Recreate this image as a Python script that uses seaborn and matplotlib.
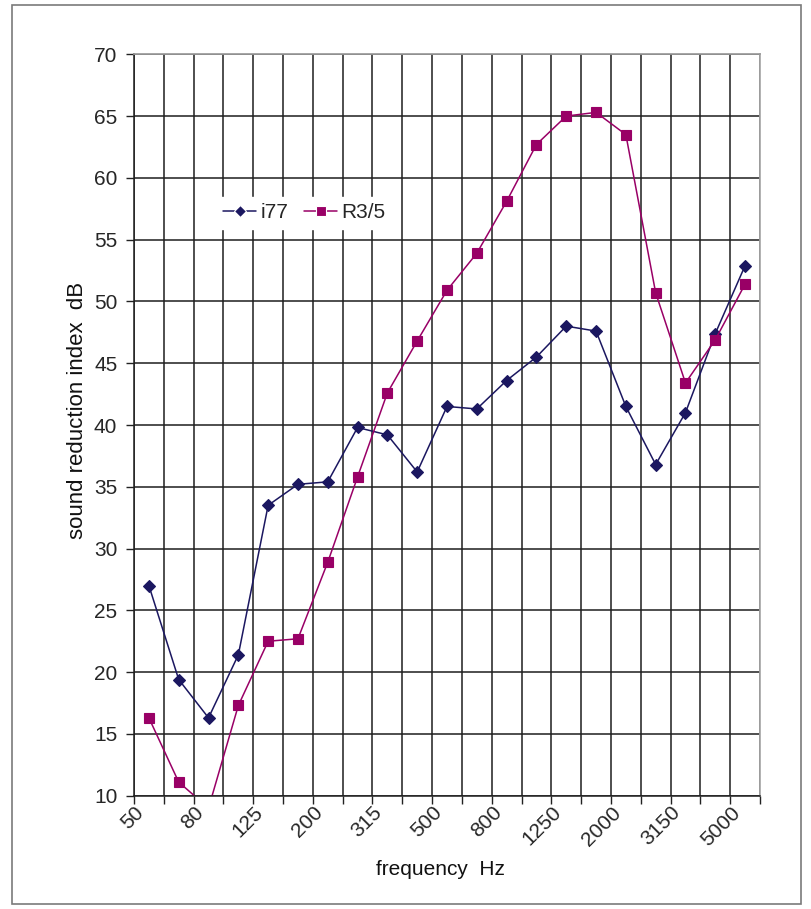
import numpy as np
import pandas as pd
import matplotlib
matplotlib.use("Agg")
import matplotlib.pyplot as plt
import matplotlib.transforms as mtransforms
from matplotlib.patches import Rectangle
import seaborn as sns

# Third-octave band centre frequencies (Hz)
bands = ["50", "63", "80", "100", "125", "160", "200", "250", "315", "400",
         "500", "630", "800", "1000", "1250", "1600", "2000", "2500", "3150",
         "4000", "5000"]

# Sound reduction index per band (dB)
i77 = [27.0, 19.4, 16.3, 21.4, 33.5, 35.2, 35.4, 39.8, 39.2, 36.2,
       41.5, 41.3, 43.6, 45.5, 48.0, 47.6, 41.5, 36.8, 41.0, 47.4, 52.9]
r35 = [16.3, 11.1, 9.0, 17.3, 22.5, 22.7, 28.9, 35.8, 42.6, 46.8,
       50.9, 53.9, 58.1, 62.7, 65.0, 65.3, 63.5, 50.7, 43.4, 46.9, 51.4]

series_names = ["i77", "R3/5"]
series_colors = ["#1b1760", "#990066"]
series_markers = ["D", "s"]

y_ticks = list(range(10, 75, 5))

pos = np.arange(len(bands))
df = pd.concat([
    pd.DataFrame({"pos": pos, "band": bands, "value": i77, "series": series_names[0]}),
    pd.DataFrame({"pos": pos, "band": bands, "value": r35, "series": series_names[1]}),
], ignore_index=True)

sns.set_theme(style="white")
plt.rcParams["font.family"] = ["Liberation Sans", "DejaVu Sans"]

fig = plt.figure(figsize=(8.11, 9.09), dpi=100)
ax = fig.add_axes([134 / 811, 1 - 795.7 / 909, 626 / 811, 741.4 / 909])

sns.lineplot(data=df, x="pos", y="value", hue="series", style="series",
             hue_order=series_names, style_order=series_names,
             palette=dict(zip(series_names, series_colors)),
             markers=dict(zip(series_names, series_markers)),
             dashes=False, sort=False, linewidth=1.1, markersize=6.5,
             markeredgewidth=0.8, ax=ax, legend=True)

# marker edges share the line colour
for line, col in zip(ax.lines[:2], series_colors):
    line.set_markeredgecolor(col)
    line.set_markerfacecolor(col)
ax.lines[1].set_markersize(7.5)

ax.set_xlim(-0.5, len(bands) - 0.5)
ax.set_ylim(10, 70)

# category boundaries carry the grid and tick marks
ax.set_xticks(np.arange(-0.5, len(bands), 1.0))
ax.set_xticklabels([])
ax.set_xticks(pos[::2], minor=True)
ax.set_xticklabels(bands[::2], minor=True, rotation=45, ha="right",
                   va="center", rotation_mode="anchor", fontsize=15)
ax.tick_params(axis="x", which="major", direction="out", length=6,
               width=1, color="#222222", bottom=True)
ax.tick_params(axis="x", which="minor", length=0, pad=10)
shift = mtransforms.ScaledTranslation(-8 / 100, 0 / 100, fig.dpi_scale_trans)
for lab in ax.get_xticklabels(minor=True):
    lab.set_transform(lab.get_transform() + shift)

ax.set_yticks(y_ticks)
ax.set_yticklabels([str(v) for v in y_ticks], fontsize=15)
ax.tick_params(axis="y", direction="out", length=6, width=1,
               color="#222222", left=True, pad=6)

ax.grid(True, which="major", color="#1e1e1e", linewidth=1.1)
ax.set_axisbelow(True)
for side in ["left", "bottom"]:
    ax.spines[side].set_color("#1e1e1e")
    ax.spines[side].set_linewidth(1.1)
ax.spines["top"].set_color("#9a9a9a")
ax.spines["right"].set_color("#a8a8a8")

ax.set_xlabel("frequency  Hz", fontsize=15, color="#111111")
ax.set_ylabel("sound reduction index  dB", fontsize=16, color="#111111")
ax.yaxis.set_label_coords(-0.074, 0.52)
ax.xaxis.set_label_coords(0.49, -0.087)

leg = ax.legend(loc="center", bbox_to_anchor=(0.272, 0.786), ncol=2,
                frameon=True, fontsize=15, handlelength=1.6,
                handletextpad=0.2, columnspacing=0.75, borderpad=0.3,
                borderaxespad=0)
leg.get_frame().set_facecolor("white")
leg.get_frame().set_edgecolor("white")
leg.get_frame().set_alpha(1)

# outer frame of the chart area
fig.patches.append(Rectangle((12 / 811, 1 - 904 / 909), 789 / 811, 899 / 909,
                             transform=fig.transFigure, fill=False,
                             edgecolor="#7a7a7a", linewidth=1.2))

fig.savefig("out.png", dpi=100, facecolor="white")
